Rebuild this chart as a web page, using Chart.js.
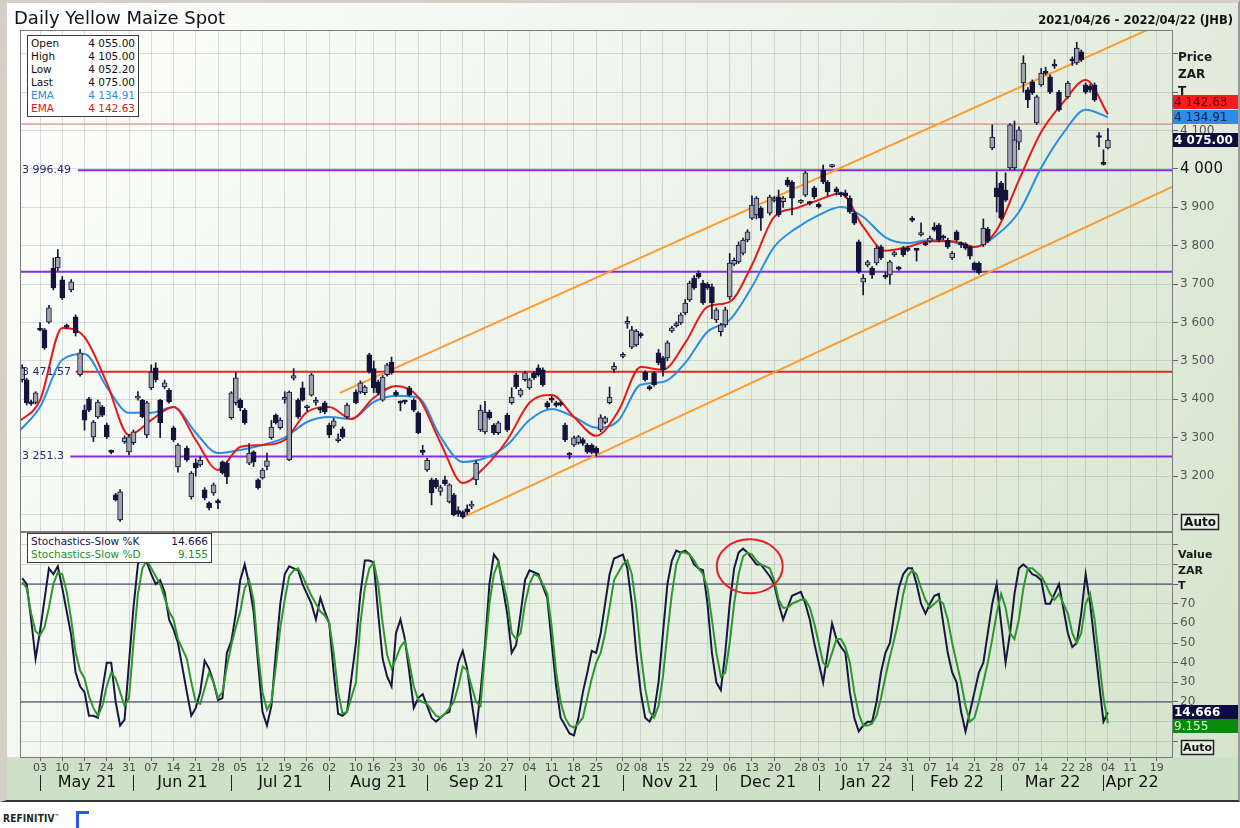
<!DOCTYPE html>
<html>
<head>
<meta charset="utf-8">
<title>Daily Yellow Maize Spot</title>
<script src="https://cdn.jsdelivr.net/npm/chart.js@4.4.1/dist/chart.umd.min.js"></script>
<style>
  body { margin: 0; background: #fff; font-family: "DejaVu Sans", Verdana, sans-serif; }
  #page { position: relative; width: 1240px; height: 828px; overflow: hidden; }
  #chart { position: absolute; left: 0; top: 0; }
  #frame { position: absolute; left: 0; top: 0; width: 1240px; height: 802px; box-sizing: border-box;
           border-left: 7px solid #d4d0c8; border-top: 3px solid #d4d0c8; border-right: 2px solid #9a9a9a;
           border-bottom: 2px solid #333; pointer-events: none; }
  .title { position: absolute; left: 14px; top: 7px; font-size: 18px; color: #111; }
  .range { position: absolute; right: 7px; top: 13px; font-size: 11.5px; font-weight: bold; color: #111; }
  .legend { position: absolute; background: #fff; border: 1px solid #3c3c3c; font-size: 10.5px; line-height: 13px; padding: 1px 3px; }
  .legend div { display: flex; justify-content: space-between; white-space: nowrap; }
  .brand { position: absolute; left: 3px; top: 813px; font: bold 10px "DejaVu Sans Condensed", "DejaVu Sans", sans-serif; color: #222; letter-spacing: 0.2px; }
  .mark { position: absolute; left: 76px; top: 811px; width: 13px; height: 17px; box-sizing: border-box;
          border-left: 3px solid #2a55ee; border-top: 3px solid #2a55ee; }
</style>
</head>
<body>
<div id="page">
  <canvas id="chart" width="1240" height="802"></canvas>
  <div id="frame"></div>
  <div class="title">Daily Yellow Maize Spot</div>
  <div class="range">2021/04/26 - 2022/04/22 (JHB)</div>
  <div class="legend" id="priceLegend" style="left:27px;top:35px;width:104px;"></div>
  <div class="legend" id="stochLegend" style="left:27px;top:533px;width:177px;"></div>
  <div class="brand">REFINITIV<sup style="font-size:5px">&#8482;</sup></div>
  <div class="mark"></div>
</div>
<script>
// JSE market holidays in the period (no candle on these days)
const holidays = ['2021-06-16', '2021-08-09', '2021-09-24', '2021-11-01', '2021-12-16',
                  '2021-12-27', '2022-03-21', '2022-04-15', '2022-04-18'];

const weekLabels = ['03','10','17','24','31','07','14','21','28','05','12','19','26','02','10','16','23','30',
                    '06','13','20','27','04','11','18','25','02','08','15','22','29','06','13','20','28',
                    '03','10','17','24','31','07','14','21','28','07','14','22','28','04','11','19'];
const monthLabels = ['May 21','Jun 21','Jul 21','Aug 21','Sep 21','Oct 21','Nov 21','Dec 21',
                     'Jan 22','Feb 22','Mar 22','Apr 22'];

// daily candles, one entry per trading day from 27 Apr 2021 to 4 Apr 2022
const opens = [
  3451,3451,3392,3392,3583,3581,3601,3742,3742,3711, 3592,3685,3615,3464,3372,3401,3302,3354,3380,3333,
  3265,3151,3086,3290,3263,3287,3403,3398,3307,3430, 3482,3398,3432,3424,3326,3224,3273,3146,3234,3229,
  3164,3130,3156,3136,3237,3234,3352,3391,3398,3372, 3234,3263,3190,3195,3225,3300,3359,3326,3400,3242,
  3455,3398,3430,3378,3411,3392,3375,
  3391,3333,3330,3292,3323,3354,3419,3419,3417,3516, 3480,3445,3398,3464,3497,3419,3392,3394,3430,3398,
  3365,3265,3216,3190,3190,3160,3190,3133,3151,3110, 3107,3115,3122,3190,3320,3315,3367,3333,3313,3359,
  3391,3464,3411,3451,3430,3469,3482,3477,3391,3400, 3391,3390,3333,3258,3281,3287,3295,3281,3280,3273,
  3320,3340,3391,3478,3512,3598,3536,3542,3570,3471, 3432,3469,3521,3508,3508,3578,3592,3599,3625,3659,
  3716,3729,3703,3700,3693,3607,3576,3594,3667,3752, 3758,3781,3815,3872,3880,3898,3885,3918,3927,3915,
  3971,3966,3913,3932,3914,3951,3908,3997,3966,4006, 3948,3935,3938,3924,3885,3810,3705,3750,3742,3755,
  3797,3720,3724,3776,3743,3794,3792,3872,3790,3828, 3806,3812,3849,3854,3824,3815,3768,3836,3806,3805,
  3797,3755,3755,3802,3843,4055,3951,3963,3945,4003, 4003,4070,4224,4206,4227,4120,4219,4252,4240,4272,
  4200,4188,4286,4276,4305,4219,4215,4219,4086,4015,4055
];
const highs = [
  3490,3455,3398,3420,3600,3585,3645,3768,3790,3720, 3596,3712,3620,3530,3385,3405,3345,3398,3384,3338,
  3268,3155,3165,3305,3308,3320,3420,3400,3395,3490, 3495,3400,3450,3428,3330,3285,3278,3212,3245,3250,
  3170,3133,3182,3140,3240,3238,3420,3470,3402,3376, 3285,3266,3193,3220,3260,3345,3362,3352,3420,3422,
  3480,3402,3445,3385,3468,3405,3380,
  3395,3338,3350,3310,3328,3390,3425,3448,3436,3520, 3500,3450,3462,3494,3510,3423,3396,3398,3434,3402,
  3368,3280,3246,3195,3194,3176,3200,3180,3155,3120, 3110,3125,3135,3240,3385,3395,3372,3337,3343,3364,
  3430,3468,3428,3473,3455,3473,3490,3482,3395,3408, 3395,3394,3338,3262,3304,3306,3300,3285,3284,3277,
  3360,3356,3432,3495,3522,3615,3590,3582,3574,3474, 3436,3472,3530,3512,3552,3590,3602,3625,3660,3708,
  3722,3735,3710,3704,3700,3638,3598,3640,3780,3768, 3810,3820,3842,3930,3928,3902,3932,3928,3945,3928,
  3978,3970,3920,3994,3916,3955,3912,4010,3970,4012, 3953,3940,3945,3930,3890,3815,3725,3762,3746,3800,
  3802,3730,3762,3786,3746,3798,3798,3876,3792,3860, 3810,3825,3860,3858,3828,3820,3785,3840,3810,3808,
  3800,3758,3758,3870,3848,4115,3992,3968,3990,4118, 4125,4110,4295,4212,4232,4192,4262,4265,4245,4285,
  4205,4228,4292,4330,4310,4224,4220,4224,4095,4050,4105
];
const lows = [
  3445,3385,3384,3388,3578,3530,3598,3685,3735,3660, 3585,3680,3565,3460,3320,3368,3290,3350,3355,3298,
  3258,3135,3082,3285,3255,3282,3398,3352,3300,3425, 3445,3300,3428,3390,3290,3210,3238,3140,3200,3225,
  3138,3112,3150,3115,3205,3180,3348,3385,3370,3335, 3230,3225,3166,3192,3216,3296,3335,3322,3390,3240,
  3450,3350,3395,3370,3408,3385,3365,
  3362,3300,3325,3288,3298,3350,3388,3415,3412,3468, 3417,3412,3395,3460,3465,3408,3370,3388,3408,3368,
  3310,3255,3212,3125,3168,3150,3176,3130,3096,3095, 3090,3100,3115,3178,3316,3310,3348,3308,3308,3316,
  3387,3428,3406,3447,3426,3452,3460,3434,3376,3392, 3380,3382,3290,3245,3277,3283,3280,3259,3258,3252,
  3316,3336,3388,3470,3508,3585,3532,3538,3560,3447, 3424,3434,3490,3460,3500,3574,3588,3595,3620,3655,
  3686,3715,3647,3686,3610,3600,3565,3588,3660,3748, 3754,3776,3810,3868,3870,3840,3880,3914,3876,3900,
  3954,3880,3910,3928,3906,3922,3898,3962,3930,4004, 3932,3928,3925,3884,3855,3728,3672,3745,3715,3750,
  3764,3714,3700,3772,3736,3772,3785,3862,3760,3825, 3800,3808,3838,3810,3815,3793,3764,3812,3795,3790,
  3765,3734,3726,3798,3808,4050,3888,3868,3915,3999, 3998,4050,4200,4160,4194,4116,4215,4245,4196,4262,
  4150,4184,4270,4272,4280,4196,4200,4176,4058,4010,4052.2
];
const closes = [
  3482,3391,3388,3417,3580,3534,3638,3690,3770,3664, 3588,3706,3573,3521,3346,3372,3341,3393,3359,3302,
  3262,3138,3159,3300,3302,3315,3406,3355,3391,3471, 3451,3339,3443,3393,3294,3281,3242,3208,3221,3242,
  3143,3117,3177,3130,3208,3198,3417,3456,3378,3339, 3260,3237,3169,3216,3240,3328,3339,3346,3402,3419,
  3462,3354,3398,3380,3464,3396,3372,
  3367,3307,3344,3295,3302,3385,3391,3443,3432,3471, 3430,3417,3458,3490,3469,3411,3390,3393,3411,3372,
  3313,3262,3242,3156,3172,3170,3180,3177,3099,3102, 3094,3106,3125,3234,3372,3367,3352,3313,3339,3320,
  3406,3432,3424,3469,3451,3456,3464,3438,3380,3398, 3384,3386,3294,3255,3300,3302,3285,3263,3262,3260,
  3352,3352,3406,3486,3516,3602,3581,3578,3566,3451, 3428,3438,3495,3477,3547,3586,3596,3620,3651,3703,
  3690,3719,3651,3690,3651,3633,3594,3633,3755,3762, 3802,3815,3836,3906,3924,3872,3927,3922,3880,3924,
  3958,3924,3917,3990,3910,3927,3902,3966,3940,4008, 3940,3933,3930,3888,3859,3732,3716,3758,3724,3794,
  3768,3718,3758,3782,3739,3776,3788,3866,3788,3834, 3803,3820,3841,3815,3820,3797,3781,3815,3803,3794,
  3773,3737,3730,3846,3812,4083,3927,3872,3919,4115, 4076,4102,4276,4180,4198,4188,4250,4249,4200,4268,
  4154,4224,4282,4315,4284,4200,4206,4180,4082,4012,4075
];

// EMAs read once a week (every 5th weekday from 26 Apr 2021)
const emaRed = [
  3339,3398,3586,3562,3443,3307,3346,3380,3294,3216, 3276,3281,3294,3367,3380,3349,3404,3435,3406,3287,
  3182,3224,3294,3391,3411,3354,3305,3370,3484,3477, 3547,3641,3654,3750,3875,3898,3919,3937,3849,3787,
  3797,3812,3812,3797,3841,3971,4096,4174,4232,4142.63
];
const emaBlue = [
  3313,3380,3503,3518,3432,3365,3365,3380,3313,3260, 3268,3281,3300,3341,3354,3349,3393,3409,3404,3302,
  3237,3247,3281,3346,3375,3354,3326,3345,3438,3445, 3495,3576,3607,3693,3797,3846,3880,3901,3875,3822,
  3807,3815,3810,3797,3828,3888,4003,4094,4154,4134.91
];

// slow stochastics, one value per trading day
const stochK = [
  83,80,62,42,56,72,88,85,89,78, 66,54,35,28,25,13,13,12,26,40, 40,20,8,11,40,68,90,96,91,85, 80,82,76,62,57,50,
  25,13,17,25,41,37,30,21,22,45, 51,65,82,90,80,66,40,15,8,18, 45,70,85,89,88,87,80,75,70,62, 73,66,60,35,14,13,15,
  50,75,92,92,91,65,42,33,28,55, 62,52,35,17,22,24,18,12,10,12, 14,15,28,40,46,37,20,5,25,49, 80,95,92,
  65,45,49,65,82,87,86,85,79,73, 50,28,12,8,4,3,12,25,35,46, 45,
  55,70,85,93,
  95,88,70,45,25,12,10,15,30,55, 80,92,97,96,97,95,90,88,87,70, 45,30,26,45,70,88,96,98,96,93, 90,90,
  84,80,70,62,68,74,
  76,70,62,50,40,30,45,60,52,48, 45,25,12,5,8,10,10,20,35,45, 50,65,78,85,88,88,80,70,65,70,
  74,75,60,45,35,30,15,5,15,25, 35,40,55,70,80,60,40,55,75,88, 90,88,85,84,82,70,70,75,80,
  55,48,50,65,85,70,50,30,10,14.666
];
const stochD = [
  81,78,65,56,54,58,68,80,86,85, 76,62,45,36,32,23,17,13,18,28, 35,32,25,18,22,50,75,88,92,88, 84,80,73,66,62,52,
  42,30,20,19,27,35,30,22,25,38, 49,58,66,78,82,72,45,25,16,20, 38,58,72,84,87,88,84,79,74,70, 66,64,60,45,25,14,15,
  30,60,78,88,91,80,60,44,37,42, 48,51,40,28,21,20,19,16,13,12, 14,17,20,28,38,36,28,20,18,45, 70,85,91,
  72,55,52,55,70,80,85,84,80,75, 58,35,20,12,8,7,9,12,22,32, 40,
  45,55,68,82,
  90,92,85,68,45,27,15,12,18,33, 55,75,90,96,96,95,92,88,85,78, 62,45,33,35,50,70,85,94,96,95, 92,90,
  88,82,72,68,68,70,
  72,72,68,60,50,40,38,45,52,52, 48,40,25,14,8,8,9,13,22,33, 43,52,62,75,84,87,85,78,72,68,
  70,72,70,62,50,40,30,18,10,12, 20,30,40,52,65,75,68,55,52,62, 78,88,88,86,84,80,75,72,75,
  65,55,50,55,70,75,62,42,22,9.155
];

// support / resistance levels and the drawn price channel
const levelValues = [3996.49, 3732, 3471.57, 3251.3, 4117];
const upperChannel = [[72.4, 3417], [259.4, 4391]];
const lowerChannel = [[99.8, 3091], [259.4, 3953]];

const priceTicks = [3100, 3200, 3300, 3400, 3500, 3600, 3700, 3800, 3900, 4000, 4100, 4200, 4300];
const priceLabelled = [3200, 3300, 3400, 3500, 3600, 3700, 3800, 3900, 4000, 4100];
const stochTicks = [0, 10, 20, 30, 40, 50, 60, 70, 80, 90, 100];
const stochLabelled = [20, 30, 40, 50, 60, 70];

// ---- trading calendar (weekday slots counted from Mon 26 Apr 2021) ----
const DAY = 864e5;
const slotDates = [];
for (let t = Date.UTC(2021, 3, 26); t <= Date.UTC(2022, 3, 22); t += DAY) {
  const d = new Date(t);
  if (d.getUTCDay() % 6 !== 0) slotDates.push(d.toISOString().slice(0, 10));
}
const isTrading = s => !holidays.includes(slotDates[s]);

const candleSlots = [];
for (let s = 1; candleSlots.length < closes.length && s < slotDates.length; s++) {
  if (isTrading(s)) candleSlots.push(s);
}
const weekSlots = [];
for (let w = 1; w * 5 < slotDates.length; w++) {
  for (let s = w * 5; s < w * 5 + 5; s++) {
    if (isTrading(s)) { weekSlots.push(s); break; }
  }
}
const monthSlots = monthLabels.map((_, m) => {
  const ym = new Date(Date.UTC(2021, 4 + m, 1)).toISOString().slice(0, 7);
  return slotDates.findIndex((s, i) => s.startsWith(ym) && isTrading(i));
});

function fmtPrice(v, dec) {
  const txt = dec === undefined ? String(v) : v.toFixed(dec);
  const [i, d] = txt.split('.');
  const g = i.replace(/\B(?=(\d{3})+(?!\d))/g, ' ');
  return d ? g + '.' + d : g;
}

// ---- legends ----
const last = closes.length - 1;
const legRows = [
  ['Open', opens[last], '#111'], ['High', highs[last], '#111'], ['Low', lows[last], '#111'],
  ['Last', closes[last], '#111'], ['EMA', emaBlue[emaBlue.length - 1], '#2a8ee0'],
  ['EMA', emaRed[emaRed.length - 1], '#e01818']
];
document.getElementById('priceLegend').innerHTML = legRows.map(r =>
  `<div style="color:${r[2]}"><span>${r[0]}</span><span>${fmtPrice(r[1], 2)}</span></div>`).join('');
document.getElementById('stochLegend').innerHTML =
  `<div style="color:#15153f"><span>Stochastics-Slow %K</span><span>${stochK[last].toFixed(3)}</span></div>` +
  `<div style="color:#229022"><span>Stochastics-Slow %D</span><span>${stochD[last].toFixed(3)}</span></div>`;

// ---- datasets ----
const xMin = 0.5, xMax = 259.4;
const isUp = closes.map((c, i) => c >= opens[i]);
const levelStyle = [
  { color: '#8a2be6', width: 2, from: 13.5 },
  { color: '#8a2be6', width: 2, from: xMin },
  { color: '#e02a20', width: 2, from: 13 },
  { color: '#8a2be6', width: 2, from: 11.8 },
  { color: '#dc6a6a', width: 1, from: xMin }
];
const flat = (v, from) => [{ x: from, y: v }, { x: xMax, y: v }];
const lineBase = { type: 'line', pointRadius: 0, tension: 0, fill: false };

const datasets = [];
levelValues.forEach((v, i) => datasets.push({
  ...lineBase, data: flat(v, levelStyle[i].from), borderColor: levelStyle[i].color,
  borderWidth: levelStyle[i].width, yAxisID: 'y', order: 20
}));
[upperChannel, lowerChannel].forEach(ch => datasets.push({
  ...lineBase, data: ch.map(p => ({ x: p[0], y: p[1] })), borderColor: '#ff9a30',
  borderWidth: 2, yAxisID: 'y', order: 19
}));
[80, 20].forEach(v => datasets.push({
  ...lineBase, data: flat(v, xMin), borderColor: '#2c3158', borderWidth: 1, yAxisID: 'y2', order: 18
}));
datasets.push({
  ...lineBase, data: emaBlue.map((v, k) => ({ x: k * 5, y: v })), borderColor: '#2a8ee0',
  borderWidth: 2, cubicInterpolationMode: 'monotone', yAxisID: 'y', order: 11
});
datasets.push({
  ...lineBase, data: emaRed.map((v, k) => ({ x: k * 5, y: v })), borderColor: '#e81818',
  borderWidth: 2, cubicInterpolationMode: 'monotone', yAxisID: 'y', order: 10
});
datasets.push({
  type: 'bar', data: candleSlots.map((s, i) => ({ x: s, y: [lows[i], highs[i]] })),
  backgroundColor: '#14143a', barThickness: 1, grouped: false, yAxisID: 'y', order: 3
});
datasets.push({
  type: 'bar', data: candleSlots.map((s, i) => ({ x: s, y: [opens[i], closes[i]] })),
  backgroundColor: isUp.map(u => u ? '#a2a2ac' : '#14143a'), borderColor: '#14143a',
  borderWidth: 1, borderSkipped: false, barThickness: 5, minBarLength: 2, grouped: false,
  yAxisID: 'y', order: 2
});
datasets.push({
  ...lineBase, data: candleSlots.map((s, i) => ({ x: s, y: stochK[i] })), borderColor: '#17173f',
  borderWidth: 2, yAxisID: 'y2', order: 1
});
datasets.push({
  ...lineBase, data: candleSlots.map((s, i) => ({ x: s, y: stochD[i] })), borderColor: '#2e962e',
  borderWidth: 2, yAxisID: 'y2', order: 0
});

// ---- painting of background, frames, boxes and month row ----
function valueBox(ctx, yc, text, bg, fg, bold) {
  ctx.fillStyle = bg;
  ctx.fillRect(1173, Math.round(yc) - 7, 66, 14);
  ctx.fillStyle = fg;
  ctx.font = (bold ? 'bold ' : '') + '12px "DejaVu Sans"';
  ctx.textAlign = 'left';
  ctx.textBaseline = 'middle';
  ctx.fillText(text, 1174, Math.round(yc) + 0.5);
}
function autoBox(ctx, x, y, w, h, size) {
  ctx.fillStyle = '#e9eee5';
  ctx.fillRect(x, y, w, h);
  ctx.strokeStyle = '#222';
  ctx.lineWidth = 1.5;
  ctx.strokeRect(x + 0.5, y + 0.5, w, h);
  ctx.fillStyle = '#111';
  ctx.font = 'bold ' + size + 'px "DejaVu Sans"';
  ctx.textAlign = 'center';
  ctx.textBaseline = 'middle';
  ctx.fillText('Auto', x + w / 2 + 0.5, y + h / 2 + 1);
}

const paint = {
  id: 'paint',
  beforeDraw(chart) {
    const { ctx, chartArea: a } = chart;
    ctx.save();
    const g = ctx.createLinearGradient(0, 0, chart.width, chart.height);
    g.addColorStop(0, '#ffffff');
    g.addColorStop(0.45, '#eef4ea');
    g.addColorStop(1, '#d3e3cc');
    ctx.fillStyle = g;
    ctx.fillRect(0, 0, chart.width, chart.height);
    ctx.fillStyle = '#cfe0c8';
    ctx.fillRect(0, a.bottom, chart.width, chart.height - a.bottom);
    ctx.restore();
  },
  afterDraw(chart) {
    const { ctx, chartArea: a } = chart;
    const { x, y, y2 } = chart.scales;
    ctx.save();

    // panel frames
    ctx.strokeStyle = '#7a7a7a';
    ctx.lineWidth = 1;
    ctx.strokeRect(a.left + 0.5, y.top + 0.5, a.right - a.left, y.bottom - y.top);
    ctx.strokeRect(a.left + 0.5, y2.top + 1.5, a.right - a.left, y2.bottom - y2.top - 1);

    // level labels at the left
    ctx.font = '11px "DejaVu Sans"';
    ctx.fillStyle = '#25257a';
    ctx.textAlign = 'left';
    ctx.textBaseline = 'middle';
    [0, 2, 3].forEach(i => ctx.fillText(fmtPrice(levelValues[i]), 22, y.getPixelForValue(levelValues[i])));

    // axis headers
    ctx.fillStyle = '#1a1a1a';
    ctx.font = 'bold 12px "DejaVu Sans"';
    [['Price', 58], ['ZAR', 75], ['T', 92]].forEach(t => ctx.fillText(t[0], 1178, t[1]));
    ctx.font = 'bold 11px "DejaVu Sans"';
    [['Value', 555], ['ZAR', 571], ['T', 586]].forEach(t => ctx.fillText(t[0], 1178, t[1]));

    // last value boxes
    const yBlue = y.getPixelForValue(emaBlue[emaBlue.length - 1]);
    valueBox(ctx, yBlue - 15, fmtPrice(emaRed[emaRed.length - 1], 2), '#f41c1c', '#6a0000', false);
    valueBox(ctx, yBlue, fmtPrice(emaBlue[emaBlue.length - 1], 2), '#2a8ee8', '#0a1a48', false);
    valueBox(ctx, y.getPixelForValue(closes[last]), fmtPrice(closes[last], 2), '#0c0c38', '#ffffff', true);
    const yK = y2.getPixelForValue(stochK[last]);
    valueBox(ctx, yK, stochK[last].toFixed(3), '#0c0c40', '#ffffff', true);
    valueBox(ctx, yK + 14, stochD[last].toFixed(3), '#0a8a0a', '#d8ffd8', false);

    autoBox(ctx, 1181, 514, 37, 15, 12);
    autoBox(ctx, 1181, 740, 32, 14, 11);

    // highlighted stochastic top
    ctx.strokeStyle = '#e8202a';
    ctx.lineWidth = 2;
    ctx.beginPath();
    ctx.ellipse(x.getPixelForValue(164.5), y2.getPixelForValue(89), 33, 27, 0, 0, Math.PI * 2);
    ctx.stroke();

    // month row
    const seps = monthSlots.map(s => Math.round(x.getPixelForValue(s)) + 0.5);
    ctx.strokeStyle = '#222';
    ctx.lineWidth = 1;
    seps.forEach(px => { ctx.beginPath(); ctx.moveTo(px, 775); ctx.lineTo(px, 791); ctx.stroke(); });
    ctx.fillStyle = '#111';
    ctx.font = '16px "DejaVu Sans"';
    ctx.textBaseline = 'middle';
    monthLabels.forEach((lab, m) => {
      if (m < monthLabels.length - 1) {
        ctx.textAlign = 'center';
        ctx.fillText(lab, (seps[m] + seps[m + 1]) / 2, 783);
      } else {
        ctx.textAlign = 'left';
        ctx.fillText(lab, seps[m] + 2, 783);
      }
    });
    ctx.restore();
  }
};

const gridColor = 'rgba(130,140,130,0.28)';
new Chart(document.getElementById('chart'), {
  type: 'bar',
  data: { datasets },
  options: {
    responsive: false,
    animation: false,
    events: [],
    layout: { padding: { left: 20, top: 30, right: 0, bottom: 0 } },
    plugins: { legend: { display: false }, tooltip: { enabled: false } },
    scales: {
      x: {
        type: 'linear', min: xMin, max: xMax, offset: false,
        grid: { offset: false, color: gridColor, tickLength: 4, tickColor: '#666' },
        border: { color: '#777' },
        afterBuildTicks: s => { s.ticks = weekSlots.map(v => ({ value: v })); },
        afterFit: s => { s.height = 45; },
        ticks: {
          autoSkip: false, maxRotation: 0, padding: 1, color: '#4a4a4a',
          font: { family: 'DejaVu Sans', size: 11 },
          callback: (v, i) => weekLabels[i]
        }
      },
      y: {
        type: 'linear', position: 'right', stack: 'panes', stackWeight: 501,
        min: 3057, max: 4362,
        grid: { color: gridColor, tickLength: 6, tickColor: '#666' },
        border: { color: '#777' },
        afterBuildTicks: s => { s.ticks = priceTicks.map(v => ({ value: v })); },
        afterFit: s => { s.width = 68; },
        ticks: {
          autoSkip: false, padding: 2,
          color: c => (c.tick && c.tick.value === 4000) ? '#111' : '#555',
          font: c => ({ family: 'DejaVu Sans', size: (c.tick && c.tick.value === 4000) ? 15 : 12 }),
          callback: v => priceLabelled.includes(v) ? fmtPrice(v) : ''
        }
      },
      y2: {
        type: 'linear', position: 'right', stack: 'panes', stackWeight: 226,
        min: -8, max: 107,
        grid: { color: gridColor, tickLength: 6, tickColor: '#666' },
        border: { color: '#777' },
        afterBuildTicks: s => { s.ticks = stochTicks.map(v => ({ value: v })); },
        afterFit: s => { s.width = 68; },
        ticks: {
          autoSkip: false, padding: 2, color: '#555', font: { family: 'DejaVu Sans', size: 12 },
          callback: v => stochLabelled.includes(v) ? String(v) : ''
        }
      }
    }
  },
  plugins: [paint]
});
</script>
</body>
</html>
